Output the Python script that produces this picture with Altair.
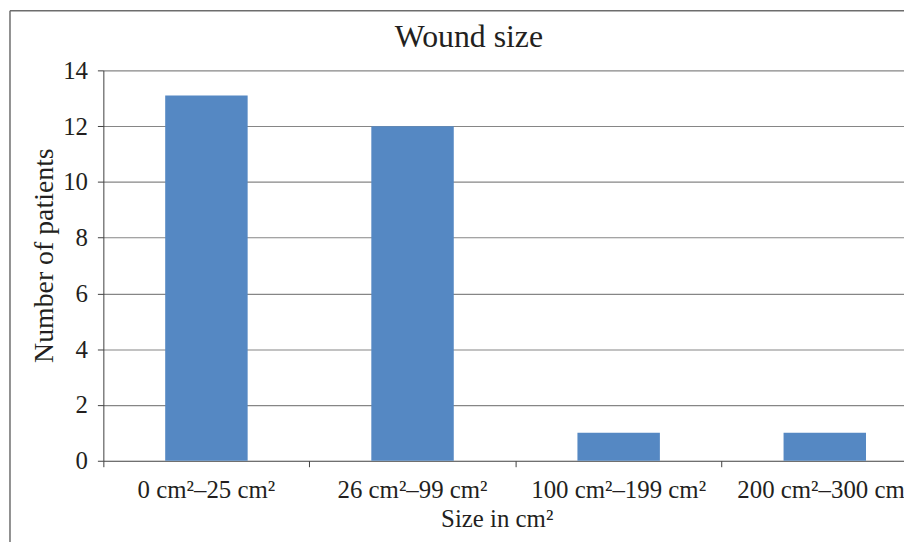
import altair as alt
import pandas as pd

categories = ["0 cm²–25 cm²", "26 cm²–99 cm²", "100 cm²–199 cm²", "200 cm²–300 cm²"]
patients = [13.1, 12, 1, 1]
y_ticks = [0, 2, 4, 6, 8, 10, 12, 14]

df = pd.DataFrame({"size": categories, "patients": patients})
frame_df = pd.DataFrame({"k": [0]})

FONT = "Liberation Serif"
TEXT = "#231f20"
AXIS = "#404040"

bars = alt.Chart(df).mark_bar(color="#5588c3", width=alt.RelativeBandSize(0.4)).encode(
    x=alt.X(
        "size:N",
        sort=categories,
        scale=alt.Scale(range=[0, 830], paddingInner=0, paddingOuter=0),
        axis=alt.Axis(
            title="Size in cm²", labelAngle=0, domain=False, ticks=True, tickSize=6,
            tickColor=AXIS, tickWidth=1, bandPosition=0, labelPadding=11, labelFontSize=25,
            labelFont=FONT, labelColor=TEXT, labelLimit=400, labelOverlap=False,
            titleFont=FONT, titleFontSize=25, titleFontWeight="normal", titleColor=TEXT,
            titleX=396, titleY=66, titleBaseline="alphabetic", titleAlign="center", grid=False,
        ),
    ),
    y=alt.Y(
        "patients:Q",
        scale=alt.Scale(domain=[0, 14], nice=False),
        axis=alt.Axis(
            title="Number of patients", values=y_ticks, domainColor=AXIS, domainWidth=1,
            tickColor=AXIS, tickSize=6, labelPadding=10, labelFontSize=25, labelFont=FONT,
            labelColor=TEXT, titleFont=FONT, titleFontSize=28, titleFontWeight="normal",
            titleColor=TEXT, titleAngle=270, titleX=-51, titleY=186,
            titleBaseline="alphabetic", titleAlign="center",
            gridColor={"condition": {"test": "datum.value === 0", "value": AXIS}, "value": "#868686"},
            gridWidth=1.2,
        ),
    ),
)

frame_left = alt.Chart(frame_df).mark_rule(color="#6d6d6d", strokeWidth=1.5).encode(
    x=alt.value(-94), y=alt.value(-60), y2=alt.value(520)
)
frame_top = alt.Chart(frame_df).mark_rule(color="#6d6d6d", strokeWidth=1.5).encode(
    x=alt.value(-94), x2=alt.value(830), y=alt.value(-60)
)

chart = alt.layer(bars, frame_left, frame_top).properties(
    width=798,
    height=393,
    title=alt.TitleParams(
        "Wound size", font=FONT, fontSize=32, fontWeight="normal", color=TEXT,
        anchor="middle", dx=-31, dy=50, offset=6,
    ),
    autosize=alt.AutoSizeParams(type="none"),
    padding={"left": 96, "top": 61, "right": 8, "bottom": 80},
).configure_view(stroke=None)

chart.save("out.html", embed_options={"renderer": "svg", "actions": False})
